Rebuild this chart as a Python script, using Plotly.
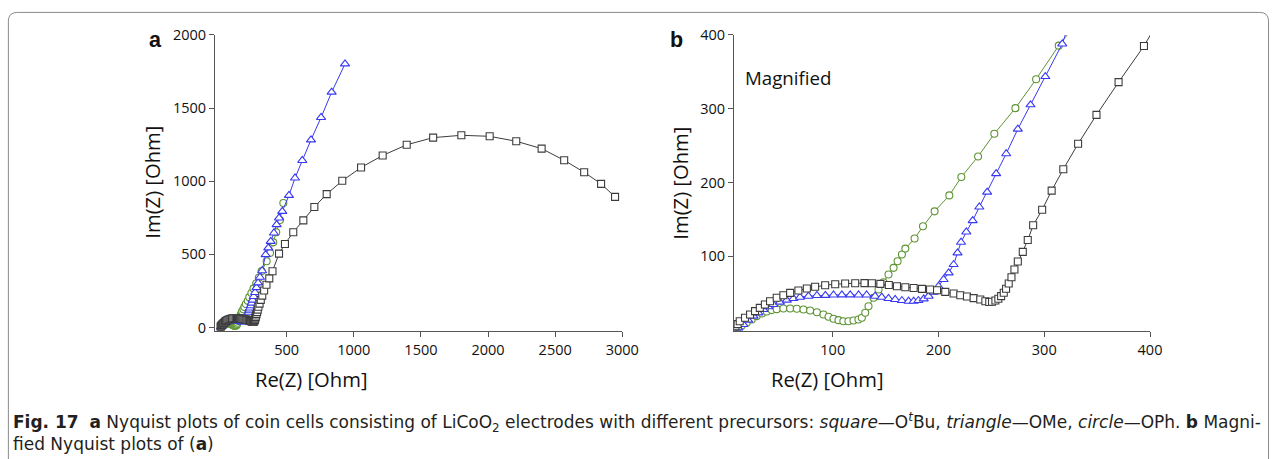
import plotly.graph_objects as go

W, H = 1287, 459

# ---------------- data (Ohm) ----------------
# square: O^tBu
sq_re = [8, 10, 12, 17, 21.8, 26.5, 31, 35.8, 40.7, 47, 53.3, 59.7, 67.5, 75.5, 83.3, 92.8,
         102.3, 111.7, 121.2, 130, 137, 145, 153, 160.7, 168.6, 176.5, 184.4, 192, 198.6,
         206.4, 214.3, 220.6, 226.9, 233.2, 239.5, 244.3, 248, 250.6, 253.8, 256.6, 259.2,
         261.7, 263.9, 266.4, 269, 271.8, 275, 279.7, 284.4, 289.5, 298, 307, 318, 332,
         349.4, 370.3, 394.3, 443, 487, 549, 624, 706, 798, 914, 1054, 1215, 1394, 1591,
         1801, 2012, 2210, 2399, 2567, 2716, 2842, 2946]
sq_im = [5, 8, 12, 16.6, 21, 25.6, 30, 34.6, 39, 43.7, 47.2, 50.4, 53.6, 56.3, 58.6, 60.8,
         62.1, 63, 63.5, 63.6, 63.5, 62.6, 61, 59.4, 58, 57, 55.8, 55, 54,
         51.8, 49.5, 47.2, 45.4, 43.2, 41.4, 39, 38, 38.3, 40, 42.4, 46,
         50.5, 56, 63, 71.6, 82, 93, 106, 122, 142, 163, 189, 218, 252.5,
         291.7, 336, 385, 505, 571, 651, 732, 824, 912, 1003, 1094, 1176, 1249, 1298,
         1314, 1307, 1273, 1223, 1143, 1061, 982, 893]

# triangle: OMe
tri_re = [10.7, 15.4, 20, 25, 29.7, 34.4, 39, 43.8, 50, 56.5, 62.8, 69, 77, 85, 93, 100.7,
          108.6, 116.5, 124.4, 132, 140, 146.3, 152.7, 159, 165.4, 171.7, 176.5, 181, 186,
          190.6, 195.4, 200, 204.8, 209.6, 214.3, 218, 221.3, 226.3, 232.3, 238.6, 246,
          254.5, 264, 275, 287, 301, 317, 343, 363, 381, 405, 425, 443, 467, 517, 562,
          616, 681, 756, 835, 934.5]
tri_im = [3, 7.6, 13.4, 18.8, 23.3, 27.9, 31.5, 34.6, 37.8, 40.5, 42.8, 44.5, 45.9, 46.8, 47, 47.5,
          47.7, 47.7, 47.5, 47.5, 45.9, 44.5, 42.8, 41.4, 40, 39.1, 39, 40, 42.3,
          45.9, 51.3, 59.4, 68.5, 77.5, 88.8, 104.6, 119, 133, 148.3, 166.8, 187,
          212, 239, 272.4, 305.3, 343.6, 387.8, 498, 544, 589, 646, 703, 749, 794, 903, 1022,
          1142, 1283, 1436, 1609, 1802]

# circle: OPh
cir_re = [10.7, 14, 18.6, 23.4, 28, 33, 37.6, 42.3, 47, 53.3, 59.7, 66, 72.3, 78.6, 85, 91.2,
          96, 100.7, 105.4, 110, 114.8, 119.6, 124.3, 127.5, 130.7, 133.8, 138.5, 143.3, 148,
          152.7, 157.5, 161.3, 165.4, 168.6, 177.4, 185.3, 196.3, 210.2, 221.6, 237.4, 252.8,
          272.7, 292.3, 313.7, 351, 376, 400, 422, 450, 475]
cir_im = [3, 6, 9.8, 14.3, 18.8, 22.5, 25.2, 27, 28.3, 29.2, 29.2, 28.8, 27.9, 26.5, 24.2, 21,
          18, 15.3, 13.4, 12, 12, 13, 14.3, 16.6, 23.4, 32.3, 43.7, 55, 64.8,
          75.2, 84.3, 93.2, 102.3, 110.4, 124, 140.6, 160.9, 182.5, 207.4, 235.3, 266,
          300.8, 340, 385.5, 453, 510, 582, 651, 735, 851]

a_xticks = [500, 1000, 1500, 2000, 2500, 3000]
a_yticks = [0, 500, 1000, 1500, 2000]
b_xticks = [100, 200, 300, 400]
b_yticks = [100, 200, 300, 400]

# ---------------- styling ----------------
C_SQ = '#3c3c3c'
C_TRI = '#3838f2'
C_CIR = '#5f9435'
AX = '#555555'
FONT = 'Open Sans, Noto Sans, sans-serif'

# the photographed picture is slightly rescaled from the page; positions below
# are given in picture pixels and converted to page pixels here
SX, SY, OY = 1270 / 1287, 0.969, 10.0


def px(x):
    return (x / SX) / W


def py(y):
    return 1 - ((y - OY) / SY) / H


series = [
    (cir_re, cir_im, C_CIR, 'circle', 7),
    (tri_re, tri_im, C_TRI, 'triangle-up', 8),
    (sq_re, sq_im, C_SQ, 'square', 7),
]

fig = go.Figure()
for xa, ya in (('x', 'y'), ('x2', 'y2')):
    for xs, ys, col, sym, sz in series:
        fig.add_trace(go.Scatter(
            x=xs, y=ys, xaxis=xa, yaxis=ya, mode='lines+markers',
            line=dict(color=col, width=1),
            marker=dict(symbol=sym, size=sz, color='white',
                        line=dict(color=col, width=1.1)),
            showlegend=False, hoverinfo='x+y'))

axis_common = dict(showline=True, linecolor=AX, linewidth=1, ticks='outside',
                   ticklen=5, tickcolor=AX, tickwidth=1, showgrid=False,
                   zeroline=False, tickfont=dict(family=FONT, size=14.5, color='#111'))

ydom = [py(331.7), py(35)]
fig.update_layout(
    width=W, height=H, margin=dict(l=0, r=0, t=0, b=0), autosize=False,
    paper_bgcolor='white', plot_bgcolor='white',
    xaxis=dict(domain=[px(215), px(622.3)], range=[-34, 3000], anchor='y',
               tickvals=a_xticks, **axis_common),
    yaxis=dict(domain=ydom, range=[-25, 2000], anchor='x',
               tickvals=a_yticks, **axis_common),
    xaxis2=dict(domain=[px(734), px(1150)], range=[6.6, 400], anchor='y2',
                tickvals=b_xticks, **axis_common),
    yaxis2=dict(domain=ydom, range=[-1.5, 400], anchor='x2',
                tickvals=b_yticks, **axis_common),
)

ann = []


def text(x, y, s, size, xanchor='center', yanchor='middle', angle=0, color='#111',
         family=FONT):
    ann.append(dict(x=px(x), y=py(y), xref='paper', yref='paper', text=s,
                    showarrow=False, xanchor=xanchor, yanchor=yanchor,
                    textangle=angle, font=dict(family=family, size=size, color=color)))


text(155, 40, '<b>a</b>', 21.5, family='Liberation Sans, Arial, sans-serif')
text(676, 40, '<b>b</b>', 21.5, family='Liberation Sans, Arial, sans-serif')
text(743, 78, 'Magnified', 18.7, xanchor='left')
text(311, 380, 'Re(Z) [Ohm]', 20.2)
text(827, 380, 'Re(Z) [Ohm]', 20.2)
text(152, 183, 'Im(Z) [Ohm]', 20.2, angle=-90)
text(680, 183, 'Im(Z) [Ohm]', 20.2, angle=-90)

CAP = 'DejaVu Sans, sans-serif'
cap1 = ('<b>Fig. 17</b>  <b>a</b> Nyquist plots of coin cells consisting of LiCoO<sub>2</sub> '
        'electrodes with different precursors: <i>square</i>—O<sup><i>t</i></sup>Bu, '
        '<i>triangle</i>—OMe, <i>circle</i>—OPh. <b>b</b> Magni-')
cap2 = 'fied Nyquist plots of (<b>a</b>)'
text(11, 423, cap1, 17, xanchor='left', color='#231f20', family=CAP)
text(11, 445, cap2, 17, xanchor='left', color='#231f20', family=CAP)
fig.update_layout(annotations=ann)

# rounded border (page coordinates, clipped to the page on the right/bottom)
L, T, R, B, r = 8.5 / W, 1 - 2.5 / H, 1285.5 / W, -0.05, 9
rx, ry = r / W, r / H
path = (f'M {L},{B} L {L},{T - ry} Q {L},{T} {L + rx},{T} '
        f'L {R - rx},{T} Q {R},{T} {R},{T - ry} L {R},{B}')
fig.add_shape(type='path', path=path, xref='paper', yref='paper',
              line=dict(color='#8a8a8a', width=1), layer='below')

post = ("document.body.style.margin='0';document.body.style.padding='0';"
        "document.body.style.overflow='hidden';"
        "document.documentElement.style.overflow='hidden';")

fig.write_html('out.html', config={'displayModeBar': False}, post_script=post)
